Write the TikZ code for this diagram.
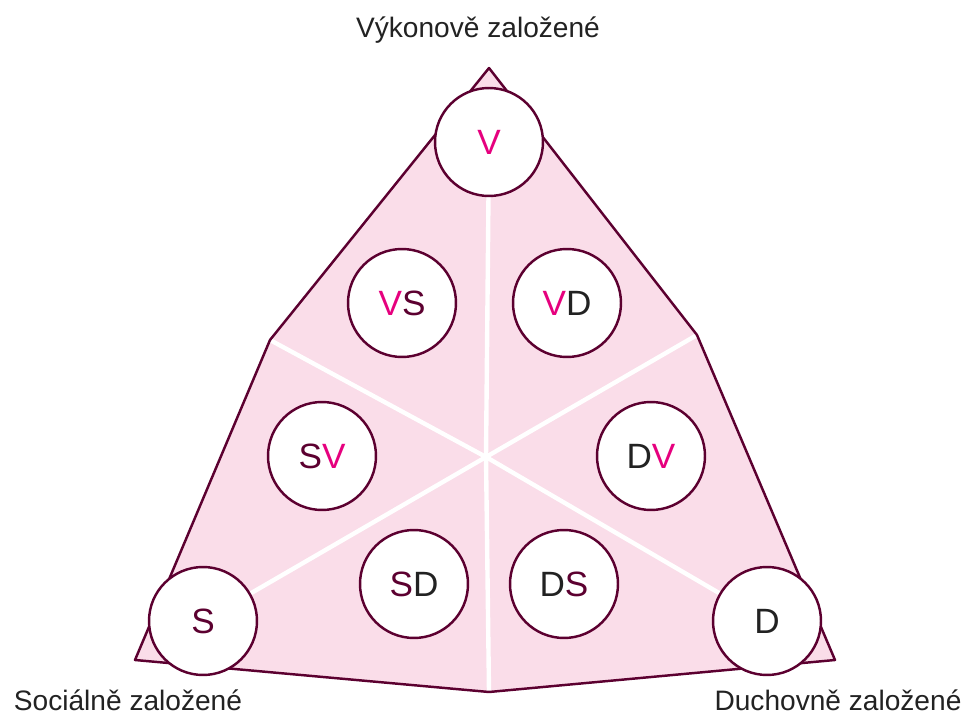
\documentclass[tikz,border=0pt]{standalone}
\usepackage{fontspec}
\setmainfont{Liberation Sans}
\usetikzlibrary{backgrounds}
\definecolor{maroon}{HTML}{5C0030}
\definecolor{pinkfill}{HTML}{FADDE9}
\definecolor{vcol}{HTML}{E6007E}
\definecolor{dcol}{HTML}{222222}
\newcommand{\lettV}{\textcolor{vcol}{V}}
\newcommand{\lettS}{\textcolor{maroon}{S}}
\newcommand{\lettD}{\textcolor{dcol}{D}}

\begin{document}
\begin{tikzpicture}[x=0.02cm, y=-0.02cm,
    ring/.style={circle, draw=maroon, line width=1.4pt, fill=white, minimum size=2.16cm, inner sep=0pt, font=\fontsize{20}{24}\selectfont},
    title/.style={font=\fontsize{16}{20}\selectfont, text=dcol},
    spoke/.style={white, line width=2.5pt}]
    \useasboundingbox (0,0) rectangle (971,719);
    % corners of the shape
    \coordinate (top) at (489,68);
    \coordinate (lk) at (270,340);
    \coordinate (bl) at (135,660);
    \coordinate (bm) at (489,692);
    \coordinate (br) at (835,660);
    \coordinate (rk) at (697,335);
    \coordinate (c) at (486,457);
    % circles
    \node[ring] (v) at (489,142) {\lettV};
    \node[ring] (vs) at (402,303) {\lettV\lettS};
    \node[ring] (vd) at (567,303) {\lettV\lettD};
    \node[ring] (sv) at (322,456) {\lettS\lettV};
    \node[ring] (dv) at (651,456) {\lettD\lettV};
    \node[ring] (sd) at (414,584) {\lettS\lettD};
    \node[ring] (ds) at (564,584) {\lettD\lettS};
    \node[ring] (s) at (203,621) {\lettS};
    \node[ring] (d) at (767,621) {\lettD};
    % labels
    \node[title] (vlab) at (478,30) {Výkonově založené};
    \node[title] (slab) at (128,700) {Sociálně založené};
    \node[title] (dlab) at (838,700) {Duchovně založené};
    \begin{scope}[on background layer]
        \fill[pinkfill] (top) -- (lk) -- (bl) -- (bm) -- (br) -- (rk) -- cycle;
        \foreach \t in {v,s,d,lk,rk,bm}
            \draw[spoke] (c) -- (\t);
        \draw[maroon, line width=1.4pt, line join=round] (top) -- (lk) -- (bl) -- (bm) -- (br) -- (rk) -- cycle;
    \end{scope}
\end{tikzpicture}
\end{document}
